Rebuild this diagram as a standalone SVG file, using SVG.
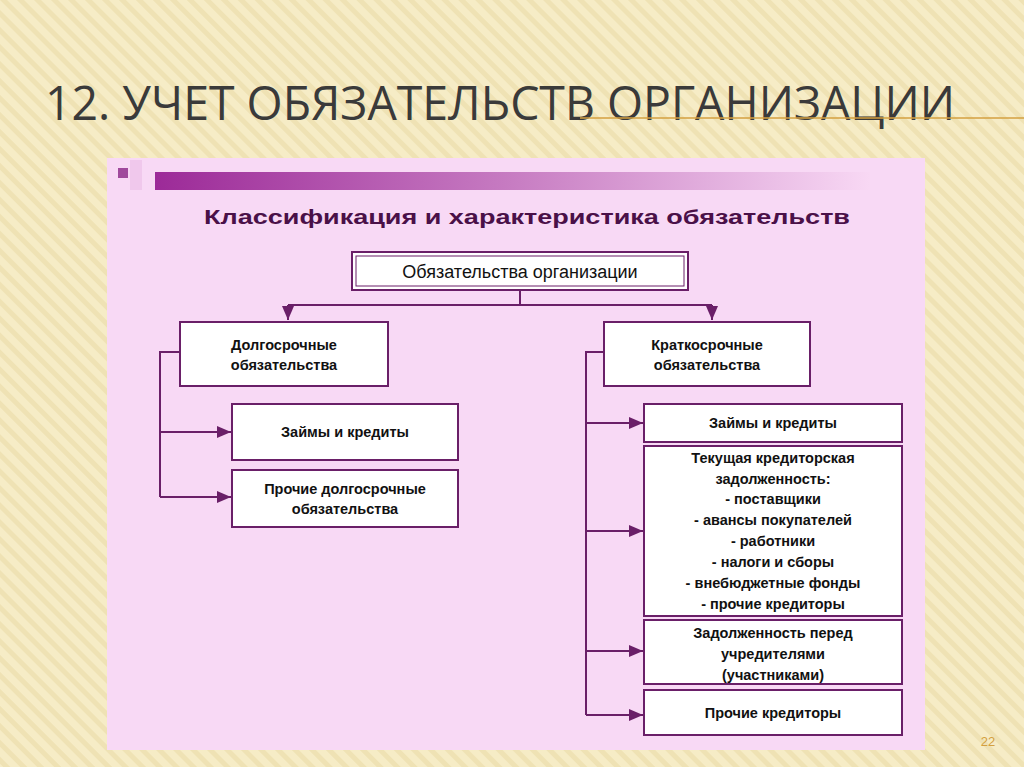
<svg xmlns="http://www.w3.org/2000/svg" width="1024" height="767" viewBox="0 0 1024 767">
<defs>
<pattern id="str" width="12" height="12" patternUnits="userSpaceOnUse" patternTransform="rotate(-45)"><rect width="12" height="12" fill="#f6ecc6"/><rect width="5" height="12" fill="#efe2b4"/></pattern>
<linearGradient id="bar" x1="0" x2="1"><stop offset="0" stop-color="#9c2a98"/><stop offset="0.5" stop-color="#c77cc2"/><stop offset="1" stop-color="#f8d8f4"/></linearGradient>
<marker id="ar" markerWidth="8" markerHeight="8" refX="7" refY="4" orient="auto"><path d="M0,1 L7,4 L0,7 z" fill="#6a1f68"/></marker>
</defs>
<style>
.box{fill:#fff;stroke:#6a1f68;stroke-width:2}
.in{fill:none;stroke:#6a1f68;stroke-width:1}
.t{font-family:"Liberation Sans",Arial,sans-serif;font-size:14.5px;fill:#111;text-anchor:middle;font-weight:bold}
.c{fill:none;stroke:#6a1f68;stroke-width:2}
</style>
<rect width="1024" height="767" fill="url(#str)"/>
<text x="45" y="120" font-family="'Open Sans','Liberation Sans',sans-serif" font-size="47" fill="#3a3a3a" textLength="910" lengthAdjust="spacingAndGlyphs">12. УЧЕТ ОБЯЗАТЕЛЬСТВ ОРГАНИЗАЦИИ</text>
<line x1="580" y1="118" x2="1024" y2="118" stroke="#d4a040" stroke-width="1.5"/>
<rect x="107" y="158" width="818" height="592" fill="#f8d9f5"/>
<rect x="118" y="168" width="10" height="10" fill="#a04a9c"/>
<rect x="130" y="160" width="12" height="30" fill="#f0c8ec"/>
<rect x="155" y="172" width="715" height="18" fill="url(#bar)"/>
<text x="527" y="224" font-family="'Liberation Sans',Arial,sans-serif" font-weight="bold" font-size="20" fill="#4a1048" text-anchor="middle" textLength="646" lengthAdjust="spacingAndGlyphs">Классификация и характеристика  обязательств</text>
<g id="connectors">
<path class="c" d="M520,290 V305 M288,305 H712"/>
<path class="c" d="M288,305 V320" marker-end="url(#ar)"/>
<path class="c" d="M712,305 V320" marker-end="url(#ar)"/>
<path class="c" d="M180,352 H160 V497"/>
<path class="c" d="M160,432 H231" marker-end="url(#ar)"/>
<path class="c" d="M160,497 H231" marker-end="url(#ar)"/>
<path class="c" d="M604,352 H586 V715"/>
<path class="c" d="M586,423 H643" marker-end="url(#ar)"/>
<path class="c" d="M586,531 H643" marker-end="url(#ar)"/>
<path class="c" d="M586,651 H643" marker-end="url(#ar)"/>
<path class="c" d="M586,715 H643" marker-end="url(#ar)"/>
</g>
<g id="root"><rect class="box" x="352" y="252" width="336" height="38"/><rect class="in" x="356" y="256" width="328" height="30"/><text class="t" x="520" y="278" style="font-weight:normal;font-size:18px">Обязательства организации</text></g>
<g id="long"><rect class="box" x="180" y="322" width="208" height="64"/><text class="t" x="284" y="350">Долгосрочные</text><text class="t" x="284" y="370">обязательства</text></g>
<g id="short"><rect class="box" x="604" y="322" width="206" height="64"/><text class="t" x="707" y="350">Краткосрочные</text><text class="t" x="707" y="370">обязательства</text></g>
<g id="l1"><rect class="box" x="232" y="404" width="226" height="56"/><text class="t" x="345" y="437">Займы и кредиты</text></g>
<g id="l2"><rect class="box" x="232" y="470" width="226" height="57"/><text class="t" x="345" y="494">Прочие долгосрочные</text><text class="t" x="345" y="514">обязательства</text></g>
<g id="r1"><rect class="box" x="644" y="404" width="258" height="38"/><text class="t" x="773" y="428">Займы и кредиты</text></g>
<g id="r2"><rect class="box" x="644" y="446" width="258" height="170"/>
<text class="t" x="773" y="463">Текущая кредиторская</text><text class="t" x="773" y="484">задолженность:</text><text class="t" x="773" y="504">- поставщики</text><text class="t" x="773" y="525">- авансы покупателей</text><text class="t" x="773" y="546">- работники</text><text class="t" x="773" y="567">- налоги и сборы</text><text class="t" x="773" y="588">- внебюджетные фонды</text><text class="t" x="773" y="609">- прочие кредиторы</text></g>
<g id="r3"><rect class="box" x="644" y="620" width="258" height="64"/><text class="t" x="773" y="638">Задолженность перед</text><text class="t" x="773" y="659">учредителями</text><text class="t" x="773" y="680">(участниками)</text></g>
<g id="r4"><rect class="box" x="644" y="690" width="258" height="45"/><text class="t" x="773" y="718">Прочие кредиторы</text></g>
<text x="988" y="746" font-family="'Liberation Sans',Arial,sans-serif" font-size="13" fill="#d4a040" text-anchor="middle">22</text>
</svg>
